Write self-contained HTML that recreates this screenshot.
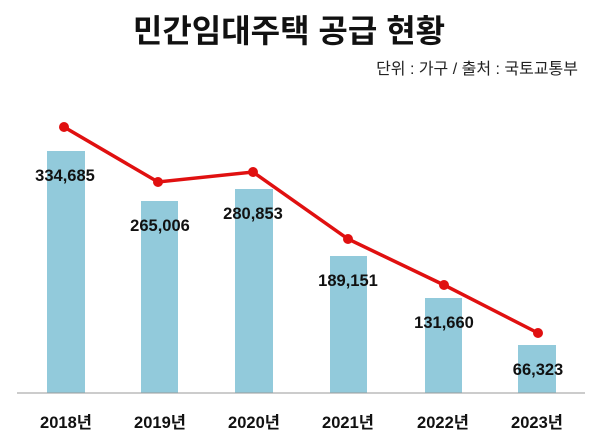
<!DOCTYPE html>
<html><head><meta charset="utf-8"><style>
body{margin:0;background:#fff;}
svg{display:block;}
text{font-family:"Liberation Sans","Noto Sans CJK KR",sans-serif;}
</style></head><body>
<svg width="600" height="445" viewBox="0 0 600 445">
<text x="289" y="42" text-anchor="middle" font-size="32" font-weight="bold" fill="#111">민간임대주택 공급 현황</text>
<text x="578" y="74" text-anchor="end" font-size="16" fill="#222">단위 : 가구 / 출처 : 국토교통부</text>
<g fill="#92cadb">
<rect x="47" y="151" width="38" height="242"/>
<rect x="141" y="201" width="37" height="192"/>
<rect x="235" y="189" width="38" height="204"/>
<rect x="330" y="256" width="37" height="137"/>
<rect x="425" y="298" width="37" height="95"/>
<rect x="518" y="345" width="38" height="48"/>
</g>
<line x1="17" y1="393" x2="585" y2="393" stroke="#999" stroke-width="1"/>
<polyline points="64,127 158,182 253,172 348,239 444,285 538,333" fill="none" stroke="#e01010" stroke-width="3.5"/>
<g fill="#e01010">
<circle cx="64" cy="127" r="5"/><circle cx="158" cy="182" r="5"/><circle cx="253" cy="172" r="5"/>
<circle cx="348" cy="239" r="5"/><circle cx="444" cy="285" r="5"/><circle cx="538" cy="333" r="5"/>
</g>
<g font-size="16.5" font-weight="bold" fill="#111" text-anchor="middle">
<text x="65" y="181">334,685</text>
<text x="160" y="231">265,006</text>
<text x="253" y="219">280,853</text>
<text x="348" y="286">189,151</text>
<text x="444" y="328">131,660</text>
<text x="538" y="375">66,323</text>
</g>
<g font-size="16.5" font-weight="bold" fill="#111" text-anchor="middle">
<text x="66" y="428">2018년</text>
<text x="160" y="428">2019년</text>
<text x="254" y="428">2020년</text>
<text x="348" y="428">2021년</text>
<text x="443" y="428">2022년</text>
<text x="537" y="428">2023년</text>
</g>
</svg>
</body></html>
